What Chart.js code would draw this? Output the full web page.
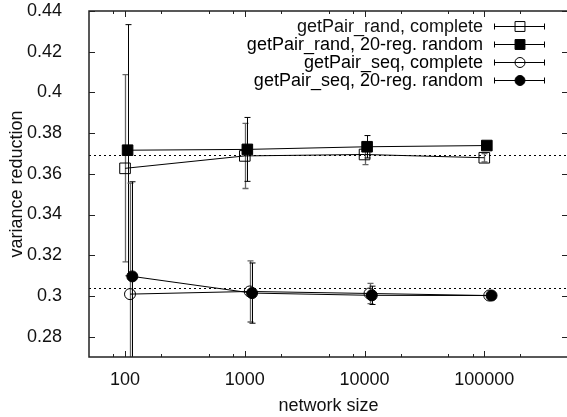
<!DOCTYPE html>
<html>
<head>
<meta charset="utf-8">
<script src="https://cdn.jsdelivr.net/npm/chart.js@4.4.0/dist/chart.umd.min.js"></script>
<style>
  html, body { margin: 0; padding: 0; background: #fff; overflow: hidden; }
  #wrap { width: 567px; height: 417px; overflow: hidden; }
</style>
</head>
<body>
<div id="wrap"><canvas id="chart" width="570" height="417"></canvas></div>
<script>
// data
var names = [
  "getPair_rand, complete",
  "getPair_rand, 20-reg. random",
  "getPair_seq, complete",
  "getPair_seq, 20-reg. random"
];
// network sizes (each series is shifted a little to the right in the original)
var randCompleteN = [100, 1000, 10000, 100000];
var randRegularN  = [105, 1050, 10500, 105000];
var seqCompleteN  = [110, 1100, 11000, 110000];
var seqRegularN   = [115, 1150, 11500, 115000];

var randCompleteV = [0.3627, 0.3688, 0.3695, 0.3679];
var randCompleteE = [0.0460, 0.0160, 0.0050, 0.0020];
var randRegularV  = [0.3716, 0.3720, 0.3733, 0.3739];
var randRegularE  = [0.0617, 0.0157, 0.0055, 0.0008];
var seqCompleteV  = [0.3009, 0.3022, 0.3012, 0.3002];
var seqCompleteE  = [0.0545, 0.0150, 0.0050, 0.0008];
var seqRegularV   = [0.3096, 0.3014, 0.3003, 0.3002];
var seqRegularE   = [0.0465, 0.0148, 0.0045, 0.0008];

var refLines = [0.3694, 0.3040];

var xTicks = [100, 1000, 10000, 100000];
var xMinorTicks = [80, 200, 500, 800, 2000, 5000, 8000, 20000, 50000, 80000, 200000];
var yTicks = [0.28, 0.30, 0.32, 0.34, 0.36, 0.38, 0.40, 0.42, 0.44];

var FONT = "'Liberation Sans', Arial, sans-serif";

var series = [
  { n: randCompleteN, v: randCompleteV, e: randCompleteE, style: 'rect',   filled: false, r: 7.5 },
  { n: randRegularN,  v: randRegularV,  e: randRegularE,  style: 'rect',   filled: true,  r: 7.5 },
  { n: seqCompleteN,  v: seqCompleteV,  e: seqCompleteE,  style: 'circle', filled: false, r: 5.5 },
  { n: seqRegularN,   v: seqRegularV,   e: seqRegularE,   style: 'circle', filled: true,  r: 5.5 }
];

var datasets = series.map(function(s, k) {
  return {
    label: names[k],
    data: s.n.map(function(n, i) { return { x: n, y: s.v[i] }; }),
    showLine: true,
    borderColor: '#000',
    borderWidth: 1,
    tension: 0,
    pointStyle: s.style,
    pointRadius: s.r,
    pointHoverRadius: s.r,
    pointBorderWidth: 1,
    pointBorderColor: '#000',
    pointBackgroundColor: s.filled ? '#000' : 'rgba(0,0,0,0)'
  };
});

function drawMarker(ctx, s, px, py) {
  ctx.lineWidth = 1;
  ctx.strokeStyle = '#000';
  ctx.fillStyle = '#000';
  ctx.beginPath();
  if (s.style === 'rect') {
    var h = Math.SQRT1_2 * s.r;
    ctx.rect(px - h, py - h, 2 * h, 2 * h);
  } else {
    ctx.arc(px, py, s.r, 0, Math.PI * 2);
  }
  if (s.filled) ctx.fill();
  ctx.stroke();
}

var overlay = {
  id: 'overlay',
  beforeDatasetsDraw: function(chart) {
    var ctx = chart.ctx, a = chart.chartArea, x = chart.scales.x, y = chart.scales.y;
    ctx.save();
    ctx.beginPath();
    ctx.rect(a.left, a.top, a.right - a.left, a.bottom - a.top);
    ctx.clip();

    // dotted reference lines
    ctx.strokeStyle = '#000';
    ctx.lineWidth = 1;
    ctx.setLineDash([2, 3]);
    refLines.forEach(function(v) {
      var py = Math.round(y.getPixelForValue(v)) + 0.5;
      ctx.beginPath();
      ctx.moveTo(a.left, py);
      ctx.lineTo(a.right, py);
      ctx.stroke();
    });
    ctx.setLineDash([]);

    // error bars
    series.forEach(function(s) {
      ctx.strokeStyle = s.filled ? '#000' : '#666';
      ctx.lineWidth = s.filled ? 1 : 1.3;
      s.n.forEach(function(n, i) {
        var px = Math.round(x.getPixelForValue(n)) + 0.5;
        var t = y.getPixelForValue(s.v[i] + s.e[i]);
        var b = y.getPixelForValue(s.v[i] - s.e[i]);
        ctx.beginPath();
        ctx.moveTo(px, t); ctx.lineTo(px, b);
        ctx.moveTo(px - 3, t); ctx.lineTo(px + 3, t);
        ctx.moveTo(px - 3, b); ctx.lineTo(px + 3, b);
        ctx.stroke();
      });
    });
    ctx.restore();
  },
  afterDraw: function(chart) {
    var ctx = chart.ctx, a = chart.chartArea, x = chart.scales.x, y = chart.scales.y;
    ctx.save();
    ctx.strokeStyle = '#222';
    ctx.lineWidth = 1;

    // ticks on all four sides, pointing inwards
    ctx.beginPath();
    xTicks.forEach(function(v) {
      var px = Math.round(x.getPixelForValue(v)) + 0.5;
      ctx.moveTo(px, a.bottom); ctx.lineTo(px, a.bottom - 6);
      ctx.moveTo(px, a.top); ctx.lineTo(px, a.top + 6);
    });
    xMinorTicks.forEach(function(v) {
      var px = Math.round(x.getPixelForValue(v)) + 0.5;
      ctx.moveTo(px, a.bottom); ctx.lineTo(px, a.bottom - 3);
      ctx.moveTo(px, a.top); ctx.lineTo(px, a.top + 3);
    });
    yTicks.forEach(function(v) {
      var py = Math.round(y.getPixelForValue(v)) + 0.5;
      ctx.moveTo(a.left, py); ctx.lineTo(a.left + 6, py);
      ctx.moveTo(a.right, py); ctx.lineTo(a.right - 6, py);
    });
    ctx.stroke();

    // frame
    ctx.lineWidth = 1.5;
    ctx.strokeStyle = '#222';
    ctx.strokeRect(a.left, a.top, a.right - a.left, a.bottom - a.top);

    // key, top right
    ctx.font = '18px ' + FONT;
    ctx.fillStyle = '#111';
    ctx.textAlign = 'right';
    ctx.textBaseline = 'middle';
    var rowY = [26, 44, 62, 80];
    series.forEach(function(s, k) {
      var ry = rowY[k];
      ctx.fillText(names[k], 483, ry + 1);
      ctx.strokeStyle = '#000';
      ctx.lineWidth = 1;
      ctx.beginPath();
      ctx.moveTo(494, ry + 0.5); ctx.lineTo(545, ry + 0.5);
      ctx.moveTo(494.5, ry - 2.5); ctx.lineTo(494.5, ry + 3.5);
      ctx.moveTo(544.5, ry - 2.5); ctx.lineTo(544.5, ry + 3.5);
      ctx.stroke();
      drawMarker(ctx, { style: s.style, filled: s.filled, r: s.style === 'rect' ? 7 : 5 }, 520, ry + 0.5);
    });
    ctx.restore();
  }
};

var ctx = document.getElementById('chart');
var chart = new Chart(ctx, {
  type: 'line',
  data: { datasets: datasets },
  options: {
    responsive: false,
    animation: false,
    events: [],
    layout: { autoPadding: false, padding: { top: 11, right: 2, left: 0, bottom: 0 } },
    plugins: { legend: { display: false }, tooltip: { enabled: false } },
    scales: {
      x: {
        type: 'logarithmic',
        min: 50,
        max: 500000,
        // tick marks are drawn by the overlay; tickLength only spaces the labels
        grid: { display: false, drawTicks: true, tickLength: 12 },
        border: { display: false },
        afterBuildTicks: function(scale) {
          scale.ticks = xTicks.map(function(v) { return { value: v }; });
        },
        afterFit: function(scale) { scale.height = 60; },
        ticks: {
          autoSkip: false,
          maxRotation: 0,
          padding: 0,
          color: '#111',
          font: { family: FONT, size: 18 },
          callback: function(v) { return String(v); }
        },
        title: {
          display: true,
          text: 'network size',
          color: '#111',
          font: { family: FONT, size: 18 },
          padding: { top: 0, bottom: 0 }
        }
      },
      y: {
        min: 0.27,
        max: 0.44,
        grid: { display: false, drawTicks: true, tickLength: 27 },
        border: { display: false },
        afterBuildTicks: function(scale) {
          scale.ticks = yTicks.map(function(v) { return { value: v }; });
        },
        afterFit: function(scale) { scale.width = 89; },
        ticks: {
          padding: 0,
          color: '#111',
          font: { family: FONT, size: 18 },
          callback: function(v) { return String(Number(v.toFixed(2))); }
        },
        title: {
          display: true,
          text: 'variance reduction',
          color: '#111',
          font: { family: FONT, size: 18 },
          padding: { top: 6, bottom: 0 }
        }
      }
    }
  },
  plugins: [overlay]
});
</script>
</body>
</html>
